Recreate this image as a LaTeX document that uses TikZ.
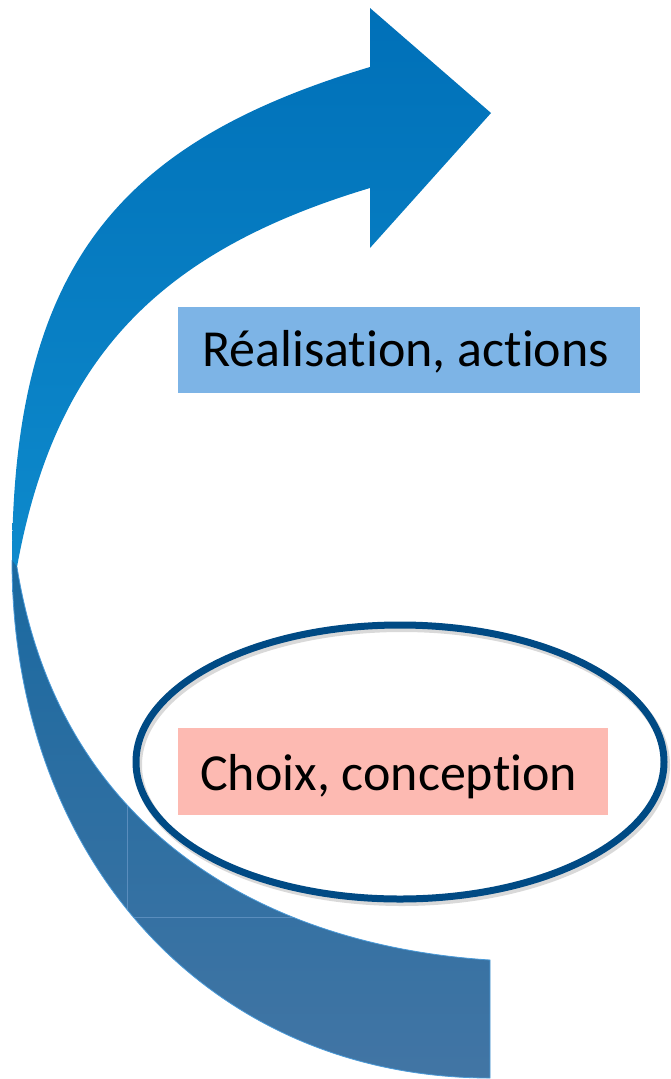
\documentclass[tikz,border=0pt]{standalone}
\usepackage{fontspec}
\setmainfont{Carlito}[Ligatures={NoCommon}]
\usetikzlibrary{shapes.geometric}
\definecolor{uptop}{HTML}{0070B8}
\definecolor{upbot}{HTML}{0E8ACC}
\definecolor{lowtop}{HTML}{1A69A0}
\definecolor{lowbot}{HTML}{4275A4}
\definecolor{lowedge}{HTML}{4A9AD8}
\definecolor{lowseam}{HTML}{5A8DBD}
\definecolor{ringblue}{HTML}{004A84}
\definecolor{boxblue}{HTML}{7DB4E6}
\definecolor{boxpink}{HTML}{FDBAB2}
\tikzset{
  labelbox/.style={rectangle, inner sep=0pt, outer sep=0pt},
  labeltext/.style={anchor=base west, inner sep=0pt, font=\fontsize{52}{60}\selectfont, text=black},
  ring/.style={ellipse, draw=ringblue, line width=7pt, inner sep=0pt, minimum width=528pt, minimum height=274pt},
  ringshadow/.style={ellipse, draw=black, draw opacity=0.15, line width=8pt, inner sep=0pt, minimum width=528pt, minimum height=274pt}
}
\begin{document}
\begin{tikzpicture}[x=1pt,y=-1pt]
\useasboundingbox (0,0) rectangle (671,1079);
% key points of the curved arrow
\coordinate (uo) at (12,565);
\coordinate (ui) at (17,567);
\coordinate (shaftTop) at (370,67);
\coordinate (headTop) at (370,8);
\coordinate (tip) at (491,113);
\coordinate (headBot) at (370,248);
\coordinate (shaftBot) at (370,188);
\coordinate (lo) at (12,560);
\coordinate (tailOut) at (490,1078);
\coordinate (tailIn) at (490,960);

% upper band with arrow head
\shade[top color=uptop, bottom color=upbot]
  (uo) .. controls (12,265) and (120,142) .. (shaftTop)
  -- (headTop) -- (tip) -- (headBot) -- (shaftBot)
  .. controls (160,251) and (55,357) .. (ui) -- cycle;

% lower band (tail)
\shade[top color=lowtop, bottom color=lowbot]
  (lo) .. controls (12,860) and (210,1078) .. (tailOut)
  -- (tailIn) .. controls (270,946) and (60,835) .. (ui) -- cycle;
\begin{scope}
  \clip (lo) .. controls (12,860) and (210,1078) .. (tailOut)
    -- (tailIn) .. controls (270,946) and (60,835) .. (ui) -- cycle;
  \draw[lowseam, line width=0.8pt] (127,760) -- (127,917) -- (300,917);
\end{scope}
\draw[lowedge, line width=0.8pt]
  (lo) .. controls (12,860) and (210,1078) .. (tailOut)
  -- (tailIn) .. controls (270,946) and (60,835) .. (ui);

% upper label
\node[labelbox, fill=boxblue, minimum width=462pt, minimum height=86pt] (rbox) at (409,350) {};
\node[labeltext] (rtext) at (202,366) {Réalisat\kern0pt ion, act\kern0pt ions};

% ellipse with soft shadow
\node[ringshadow] (ringsh) at (402,765) {};
\node[ring] (ring) at (400,762) {};

% lower label
\node[labelbox, fill=boxpink, minimum width=430pt, minimum height=87pt] (cbox) at (393,771.5) {};
\node[labeltext] (ctext) at (200,790) {Choix, concept\kern0pt ion};
\end{tikzpicture}
\end{document}
